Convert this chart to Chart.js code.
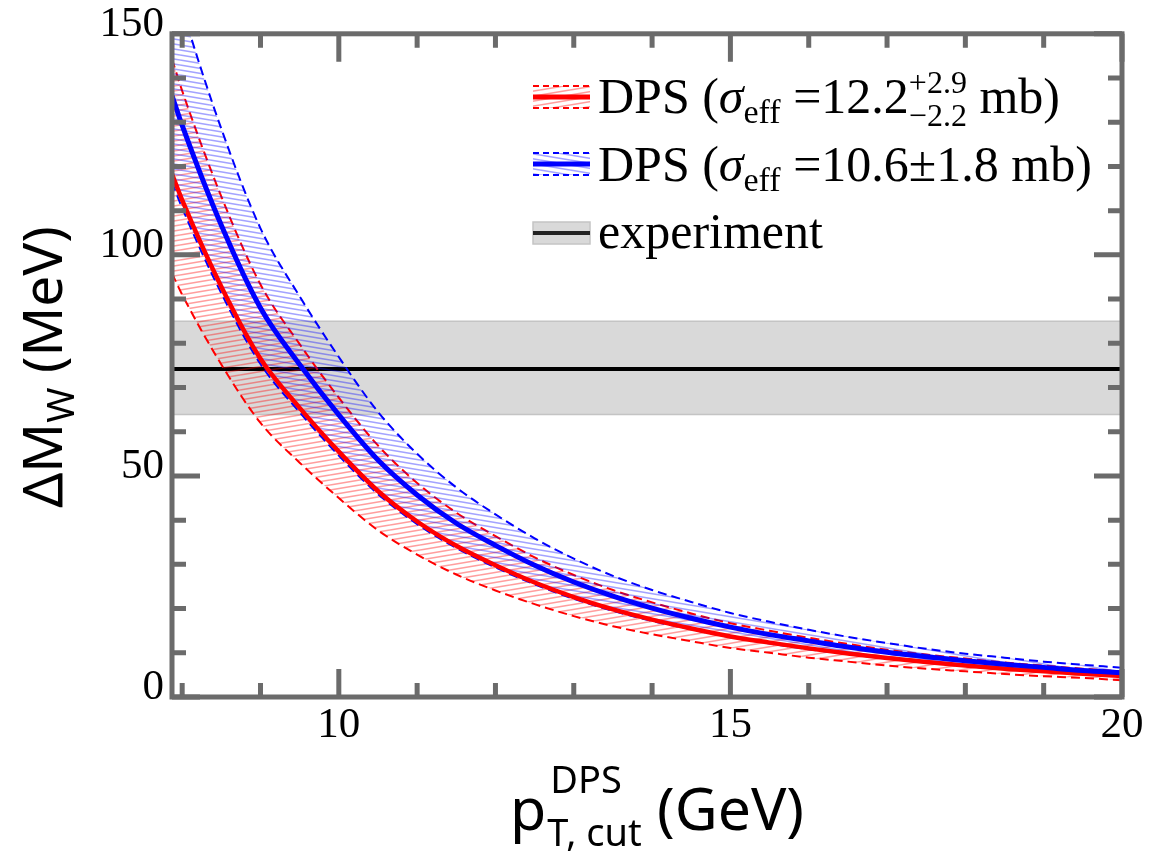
<!DOCTYPE html>
<html>
<head>
<meta charset="utf-8">
<script src="https://cdn.jsdelivr.net/npm/chart.js@4.4.1/dist/chart.umd.min.js"></script>
<style>
  body { margin: 0; background: #fff; }
  canvas { display: block; }
</style>
</head>
<body>
<canvas id="chart" width="1161" height="857"></canvas>
<script>
// ========== DATA ==========
const xMin = 7.87, xMax = 20;
const xs = [7.87, 8, 8.5, 9, 9.5, 10, 10.5, 11, 11.5, 12, 12.5, 13, 13.5, 14, 14.5, 15, 15.5, 16, 16.5, 17, 17.5, 18, 18.5, 19, 19.5, 20];

// DPS, sigma_eff = 12.2 (+2.9 -2.2) mb
const redMid   = [118.3, 112.4, 92.8, 76.5, 65.4, 55.5, 46.6, 39.7, 34.2, 29.8, 25.9, 22.6, 19.8, 17.5, 15.5, 13.7, 12.3, 11.0, 9.85, 8.8, 7.9, 7.1, 6.4, 5.8, 5.25, 4.75];
const redHigh  = [144.3, 137.1, 113.2, 93.3, 79.8, 67.7, 56.9, 48.4, 41.7, 36.4, 31.6, 27.6, 24.2, 21.4, 18.9, 16.7, 15.0, 13.4, 12.0, 10.7, 9.6, 8.7, 7.8, 7.1, 6.4, 5.8];
const redLow   = [95.8, 91.0, 75.2, 62.0, 53.0, 45.0, 37.7, 32.2, 27.7, 24.1, 21.0, 18.3, 16.0, 14.2, 12.6, 11.1, 10.0, 8.9, 8.0, 7.1, 6.4, 5.8, 5.2, 4.7, 4.3, 3.8];

// DPS, sigma_eff = 10.6 +- 1.8 mb
const blueMid  = [136.0, 129.3, 106.7, 88.0, 75.2, 63.8, 53.6, 45.7, 39.3, 34.3, 29.8, 26.0, 22.8, 20.1, 17.8, 15.8, 14.1, 12.7, 11.3, 10.1, 9.1, 8.2, 7.4, 6.7, 6.0, 5.5];
const blueHigh = [163.8, 155.7, 128.5, 106.0, 90.6, 76.9, 64.5, 55.0, 47.4, 41.3, 35.9, 31.3, 27.4, 24.2, 21.5, 19.0, 17.0, 15.2, 13.6, 12.2, 10.9, 9.8, 8.9, 8.0, 7.3, 6.6];
const blueLow  = [116.4, 110.6, 91.3, 75.3, 64.4, 54.6, 45.9, 39.1, 33.7, 29.3, 25.5, 22.2, 19.5, 17.2, 15.3, 13.5, 12.1, 10.8, 9.7, 8.7, 7.8, 7.0, 6.3, 5.7, 5.2, 4.7];

// experiment
const expX    = [xMin, xMax];
const expMid  = [74.2, 74.2];
const expHigh = [85.0, 85.0];
const expLow  = [63.9, 63.9];

const xTickValues = [10, 15, 20];
const yTickValues = [0, 50, 100, 150];

const SERIF = '"Liberation Serif", "Times New Roman", serif';
const SANS = '"Noto Sans", "Open Sans", sans-serif';

// ========== HELPERS ==========
function pts(xv, yv) {
    return xv.map((x, i) => ({ x: x, y: yv[i] }));
}

const ctx = document.getElementById('chart').getContext('2d');

function hatch(color, rising) {
    const c = document.createElement('canvas');
    c.width = 30; c.height = 5;
    const g = c.getContext('2d');
    g.strokeStyle = color;
    g.lineWidth = 1.6;
    for (const k of [-1, 0, 1]) {
        g.beginPath();
        if (rising) { g.moveTo(0, 5 + 5 * k); g.lineTo(30, 5 * k); }
        else { g.moveTo(0, 5 * k); g.lineTo(30, 5 + 5 * k); }
        g.stroke();
    }
    return ctx.createPattern(c, 'repeat');
}

const redHatch = hatch('rgba(255, 0, 0, 0.38)', true);
const blueHatch = hatch('rgba(0, 0, 255, 0.36)', false);

// draw text pieces one after another (for sub/superscripts)
function drawRuns(g, x, y, runs) {
    runs.forEach(r => {
        if (r.stack) {
            let w = 0;
            r.stack.forEach(s => {
                g.font = s.font;
                g.fillText(s.text, x + (s.dx || 0), y + (s.dy || 0));
                w = Math.max(w, g.measureText(s.text).width + (s.dx || 0));
            });
            x += w;
            return;
        }
        g.font = r.font;
        g.fillText(r.text, x + (r.dx || 0), y + (r.dy || 0));
        x += g.measureText(r.text).width + (r.dx || 0);
    });
    return x;
}

function runsWidth(g, runs) {
    let w = 0;
    runs.forEach(r => { g.font = r.font; w += g.measureText(r.text).width; });
    return w;
}

// ========== PLUGINS ==========
const framePlugin = {
    id: 'frame',
    afterDraw(chart) {
        const g = chart.ctx;
        const a = chart.chartArea;
        const sx = chart.scales.x, sy = chart.scales.y;
        g.save();
        g.strokeStyle = '#6b6b6b';
        g.lineWidth = 5;
        g.lineCap = 'butt';
        // ticks inwards on all sides
        for (let v = 0; v <= 150; v += 10) {
            const py = sy.getPixelForValue(v);
            const len = v % 50 === 0 ? 28 : 14;
            g.beginPath();
            g.moveTo(a.left, py); g.lineTo(a.left + len, py);
            g.moveTo(a.right, py); g.lineTo(a.right - len, py);
            g.stroke();
        }
        for (let v = 8; v <= 20; v += 1) {
            const px = sx.getPixelForValue(v);
            const len = v % 5 === 0 ? 28 : 14;
            g.beginPath();
            g.moveTo(px, a.bottom); g.lineTo(px, a.bottom - len);
            g.moveTo(px, a.top); g.lineTo(px, a.top + len);
            g.stroke();
        }
        g.strokeRect(a.left, a.top, a.right - a.left, a.bottom - a.top);
        g.restore();
    }
};

const textPlugin = {
    id: 'texts',
    afterDraw(chart) {
        const g = chart.ctx;
        g.save();
        g.fillStyle = '#000';
        g.textBaseline = 'alphabetic';
        g.textAlign = 'left';

        // ---- legend ----
        const sx = 533, sw = 57, sh = 22;
        const rows = [
            { yc: 97, hatch: redHatch, color: '#ff0000' },
            { yc: 164, hatch: blueHatch, color: '#0000ff' }
        ];
        rows.forEach(r => {
            g.fillStyle = r.hatch;
            g.fillRect(sx, r.yc - sh / 2, sw, sh);
            g.strokeStyle = r.color;
            g.lineWidth = 2;
            g.setLineDash([6, 4]);
            g.beginPath();
            g.moveTo(sx, r.yc - sh / 2); g.lineTo(sx + sw, r.yc - sh / 2);
            g.moveTo(sx, r.yc + sh / 2); g.lineTo(sx + sw, r.yc + sh / 2);
            g.stroke();
            g.setLineDash([]);
            g.lineWidth = 5;
            g.beginPath();
            g.moveTo(sx, r.yc); g.lineTo(sx + sw, r.yc);
            g.stroke();
        });
        // experiment swatch
        g.fillStyle = '#d9d9d9';
        g.fillRect(sx, 233 - sh / 2, sw, sh);
        g.strokeStyle = '#c4c4c4';
        g.lineWidth = 1.5;
        g.strokeRect(sx, 233 - sh / 2, sw, sh);
        g.strokeStyle = '#222';
        g.lineWidth = 4;
        g.beginPath();
        g.moveTo(sx, 233); g.lineTo(sx + sw, 233);
        g.stroke();

        g.fillStyle = '#000';
        const big = '50px ' + SERIF;
        const ital = 'italic 50px ' + SERIF;
        const sub = '34px ' + SERIF;
        const tiny = '32px ' + SERIF;
        drawRuns(g, 598, 113, [
            { text: 'DPS (', font: big },
            { text: 'σ', font: ital },
            { text: 'eff', font: sub, dy: 10 },
            { text: ' =12.2', font: big },
            { stack: [
                { text: '+2.9', font: tiny, dy: -20 },
                { text: '−2.2', font: tiny, dy: 13 }
            ] },
            { text: ' mb)', font: big }
        ]);
        drawRuns(g, 598, 181, [
            { text: 'DPS (', font: big },
            { text: 'σ', font: ital },
            { text: 'eff', font: sub, dy: 10 },
            { text: ' =10.6±1.8 mb)', font: big }
        ]);
        drawRuns(g, 598, 248, [{ text: 'experiment', font: big }]);

        // ---- y axis title ----
        const yRuns = [
            { text: 'ΔM', font: '55px ' + SANS },
            { text: 'W', font: '38px ' + SANS, dy: 12 },
            { text: ' (MeV)', font: '55px ' + SANS }
        ];
        const yw = runsWidth(g, yRuns);
        g.save();
        g.translate(62, 367);
        g.rotate(-Math.PI / 2);
        drawRuns(g, -yw / 2, 0, yRuns);
        g.restore();

        // ---- x axis title ----
        drawRuns(g, 510, 830, [
            { text: 'p', font: '59px ' + SANS },
            { stack: [
                { text: 'DPS', font: '38px ' + SANS, dy: -37, dx: 4 },
                { text: 'T, cut', font: '38px ' + SANS, dy: 16, dx: 1 }
            ] },
            { text: ' (GeV)', font: '59px ' + SANS }
        ]);
        g.restore();
    }
};

// ========== CHART ==========
const lineBase = { pointRadius: 0, cubicInterpolationMode: 'monotone', tension: 0.4 };
const dash = [9, 5];

new Chart(ctx, {
    type: 'line',
    data: {
        datasets: [
            // 0 experiment band (upper edge, filled to 1)
            { ...lineBase, data: pts(expX, expHigh), borderColor: '#c4c4c4', borderWidth: 1.5,
              fill: { target: 1, above: '#d9d9d9', below: '#d9d9d9' }, order: 20 },
            // 1 experiment band lower edge
            { ...lineBase, data: pts(expX, expLow), borderColor: '#c4c4c4', borderWidth: 1.5, fill: false, order: 19 },
            // 2 experiment central value
            { ...lineBase, data: pts(expX, expMid), borderColor: '#000000', borderWidth: 4, fill: false, order: 18 },
            // 3 red upper (filled to 4)
            { ...lineBase, data: pts(xs, redHigh), borderColor: '#ff0000', borderWidth: 2, borderDash: dash,
              fill: { target: 4, above: redHatch, below: redHatch }, order: 10 },
            // 4 red lower
            { ...lineBase, data: pts(xs, redLow), borderColor: '#ff0000', borderWidth: 2, borderDash: dash, fill: false, order: 9 },
            // 5 blue upper (filled to 6)
            { ...lineBase, data: pts(xs, blueHigh), borderColor: '#0000ff', borderWidth: 2, borderDash: dash,
              fill: { target: 6, above: blueHatch, below: blueHatch }, order: 8 },
            // 6 blue lower
            { ...lineBase, data: pts(xs, blueLow), borderColor: '#0000ff', borderWidth: 2, borderDash: dash, fill: false, order: 7 },
            // 7 red central
            { ...lineBase, data: pts(xs, redMid), borderColor: '#ff0000', borderWidth: 4.5, fill: false, order: 2 },
            // 8 blue central
            { ...lineBase, data: pts(xs, blueMid), borderColor: '#0000ff', borderWidth: 5, fill: false, order: 1 }
        ]
    },
    options: {
        responsive: false,
        animation: false,
        layout: { padding: { top: 30, right: 39, left: 0, bottom: 0 } },
        plugins: {
            legend: { display: false },
            tooltip: { enabled: false }
        },
        scales: {
            x: {
                type: 'linear',
                min: xMin,
                max: xMax,
                afterFit: s => { s.height = 160; },
                afterBuildTicks: s => { s.ticks = xTickValues.map(v => ({ value: v })); },
                grid: { display: false, drawTicks: false },
                border: { display: false },
                ticks: {
                    color: '#000',
                    font: { family: SERIF, size: 43 },
                    padding: 3,
                    maxRotation: 0,
                    autoSkip: false
                }
            },
            y: {
                min: 0,
                max: 150,
                afterFit: s => { s.width = 172; },
                afterBuildTicks: s => { s.ticks = yTickValues.map(v => ({ value: v })); },
                grid: { display: false, drawTicks: false },
                border: { display: false },
                ticks: {
                    color: '#000',
                    font: { family: SERIF, size: 43 },
                    padding: 8,
                    labelOffset: -9,
                    autoSkip: false
                }
            }
        }
    },
    plugins: [framePlugin, textPlugin]
});
</script>
</body>
</html>
